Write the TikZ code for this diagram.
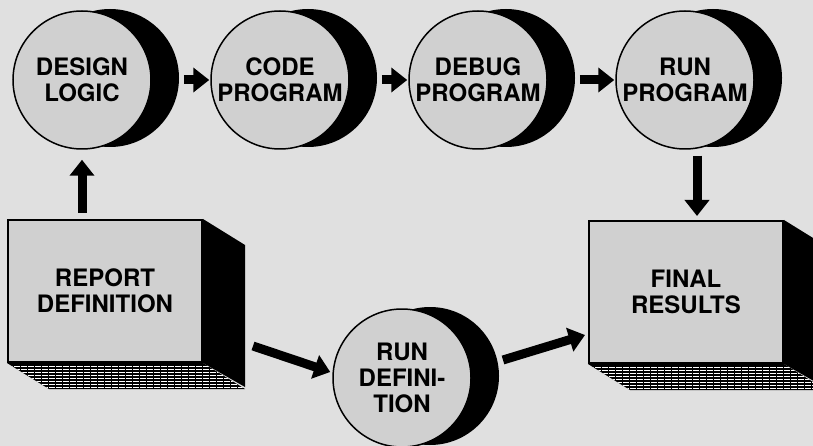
\documentclass[tikz,border=0pt]{standalone}
\usepackage{fontspec}
\setmainfont{TeX Gyre Heros}
\usetikzlibrary{arrows.meta, calc}
\definecolor{paper}{HTML}{E0E0E0}
\definecolor{face}{HTML}{D0D0D0}

\begin{document}
\begin{tikzpicture}[x=1pt, y=-1pt, font=\bfseries\fontsize{24}{26}\selectfont,
  stage/.style={circle, draw=black, line width=1.5pt, fill=face, minimum size=138pt, inner sep=0pt, align=center},
  crescent/.style={fill=black},
  block/.style={rectangle, draw=black, line width=2pt, fill=face, minimum width=194pt, minimum height=142pt, align=center},
  arr/.style={line width=9pt, -{Triangle[width=24pt, length=16pt]}}]
  \useasboundingbox (0,0) rectangle (813,446);
  \clip (0,0) rectangle (813,446);
  \fill[paper] (0,0) rectangle (813,446);

  % Program steps
  \foreach \name/\x/\txt in {design/82/DESIGN\\LOGIC, code/280/CODE\\PROGRAM,
                             debug/478/DEBUG\\PROGRAM, run/685/RUN\\PROGRAM} {
    \fill[crescent] (\x+28,78) circle (69pt);
    \node[stage] (\name) at (\x,80) {\txt};
  }
  \fill[crescent] (430,376) circle (69pt);
  \node[stage] (rundef) at (402,378) {RUN\\DEFINI-\\TION};

  % Report and results blocks
  \node[block] (report) at (105,291) {REPORT\\DEFINITION};
  \node[block] (final) at (686,292) {FINAL\\RESULTS};
  \foreach \b in {report, final} {
    \fill[black] (\b.north east) -- ++(42,26) -- ++(0,142) -- (\b.south east) -- cycle;
    \fill[black] (\b.south west) -- (\b.south east) -- ++(42,26) -- ($(\b.south west)+(42,26)$) -- cycle;
    \begin{scope}
      \clip (\b.south west) -- (\b.south east) -- ++(42,26) -- ($(\b.south west)+(42,26)$) -- cycle;
      \foreach \d in {3,6,...,24}
        \draw[white, line width=0.7pt, dash pattern=on 6pt off 1pt] ($(\b.south west)+(0,\d)$) -- ++(260,0);
    \end{scope}
  }

  % Flow
  \foreach \a/\b in {design/code, code/debug, debug/run}
    \draw[arr] ([xshift=32pt]\a.east) -- ([xshift=-1pt]\b.west);
  \draw[arr, shorten <=6pt, shorten >=10pt] (design.south |- report.north) -- (design.south);
  \draw[arr, shorten <=6pt, shorten >=4pt] ([xshift=12pt]run.south) -- ([xshift=12pt]run.south |- final.north);
  \draw[arr] ([shift={(50,-17)}]report.south east) -- ([shift={(-2,-6)}]rundef.west);
  \draw[arr] ([shift={(101,-18)}]rundef.center) -- ([shift={(-3,-29)}]final.south west);
\end{tikzpicture}
\end{document}
